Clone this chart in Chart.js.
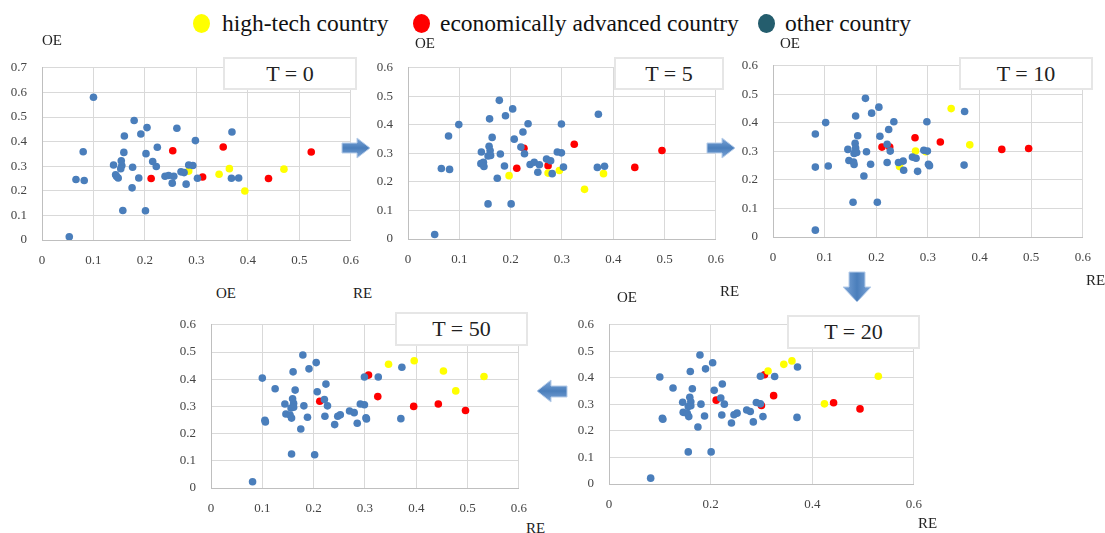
<!DOCTYPE html>
<html>
<head>
<meta charset="utf-8">
<script src="https://cdn.jsdelivr.net/npm/chart.js@4"></script>
<style>
  body { margin: 0; background: #fff; }
  #wrap { position: relative; width: 1105px; height: 533px; overflow: hidden;
          font-family: "Liberation Serif", "Times New Roman", "DejaVu Serif", serif; color: #222; }
  canvas { position: absolute; }
  .lbl { position: absolute; font-size: 15px; line-height: 15px; white-space: nowrap; color: #222; }
  .tbox { position: absolute; background: #fff; border: 2px solid #e6e6e6; box-sizing: border-box;
          font-size: 22px; text-align: center; color: #222; }
  .dot { position: absolute; width: 17px; height: 19px; border-radius: 50%; }
  .leg { position: absolute; font-size: 23.5px; line-height: 22px; white-space: nowrap; color: #111; }
  svg { position: absolute; left: 0; top: 0; }
</style>
</head>
<body>
<div id="wrap">
  <canvas id="c0"></canvas>
  <canvas id="c5"></canvas>
  <canvas id="c10"></canvas>
  <canvas id="c50"></canvas>
  <canvas id="c20"></canvas>

  <!-- legend -->
  <div class="dot" style="left:193px;top:14px;background:#ffff00"></div>
  <div class="leg" style="left:222px;top:12px">high-tech country</div>
  <div class="dot" style="left:413px;top:14px;background:#ff0000"></div>
  <div class="leg" style="left:440px;top:12px">economically advanced country</div>
  <div class="dot" style="left:758px;top:14px;background:#245d6d"></div>
  <div class="leg" style="left:785px;top:12px">other country</div>

  <!-- axis names -->
  <div class="lbl" style="left:42px;top:33px">OE</div>
  <div class="lbl" style="left:415px;top:36px">OE</div>
  <div class="lbl" style="left:780px;top:36px">OE</div>
  <div class="lbl" style="left:1086px;top:273px">RE</div>
  <div class="lbl" style="left:216px;top:286px">OE</div>
  <div class="lbl" style="left:353px;top:286px">RE</div>
  <div class="lbl" style="left:526px;top:521px">RE</div>
  <div class="lbl" style="left:617px;top:290px">OE</div>
  <div class="lbl" style="left:720px;top:284px">RE</div>
  <div class="lbl" style="left:918px;top:516px">RE</div>

  <!-- period boxes -->
  <div class="tbox" style="left:223px;top:57px;width:134px;height:33px;line-height:29px">T = 0</div>
  <div class="tbox" style="left:614px;top:57px;width:110px;height:33px;line-height:29px">T = 5</div>
  <div class="tbox" style="left:959px;top:57px;width:134px;height:33px;line-height:29px">T = 10</div>
  <div class="tbox" style="left:395px;top:312px;width:133px;height:34px;line-height:30px">T = 50</div>
  <div class="tbox" style="left:787px;top:315px;width:133px;height:34px;line-height:30px">T = 20</div>

  <svg width="1105" height="533">
    <defs>
      <linearGradient id="gh" x1="0" y1="0" x2="0" y2="1">
        <stop offset="0" stop-color="#7ea6d8"/><stop offset="0.5" stop-color="#4a7ebb"/><stop offset="1" stop-color="#7ea6d8"/>
      </linearGradient>
      <linearGradient id="gv" x1="0" y1="0" x2="1" y2="0">
        <stop offset="0" stop-color="#7ea6d8"/><stop offset="0.5" stop-color="#4a7ebb"/><stop offset="1" stop-color="#7ea6d8"/>
      </linearGradient>
    </defs>
    <polygon points="342,143 357,143 357,138 370,148 357,158 357,153 342,153" fill="url(#gh)" stroke="#b7cde9" stroke-width="1"/>
    <polygon points="707,143 722,143 722,138 735,148 722,158 722,153 707,153" fill="url(#gh)" stroke="#b7cde9" stroke-width="1"/>
    <polygon points="849,272 865,272 865,287 871,287 857,302 843,287 849,287" fill="url(#gv)" stroke="#b7cde9" stroke-width="1"/>
    <polygon points="567,386 551,386 551,380 537,391 551,402 551,397 567,397" fill="url(#gh)" stroke="#b7cde9" stroke-width="1"/>
  </svg>
</div>

<script>
// T = 0
const t0Other = [[0.053,0.013],[0.066,0.246],[0.082,0.242],[0.080,0.359],[0.100,0.580],[0.139,0.305],
  [0.143,0.265],[0.145,0.258],[0.148,0.252],[0.154,0.322],[0.155,0.303],[0.153,0.290],[0.157,0.120],
  [0.160,0.423],[0.159,0.356],[0.176,0.296],[0.175,0.212],[0.179,0.486],[0.188,0.252],[0.192,0.431],
  [0.202,0.351],[0.204,0.457],[0.201,0.119],[0.215,0.319],[0.222,0.299],[0.224,0.377],[0.239,0.259],
  [0.246,0.262],[0.256,0.259],[0.253,0.231],[0.262,0.454],[0.270,0.277],[0.276,0.274],[0.280,0.227],
  [0.285,0.305],[0.293,0.303],[0.298,0.404],[0.302,0.251],[0.369,0.439],[0.368,0.251],[0.382,0.252]];
const t0HighTech = [[0.285,0.280],[0.344,0.267],[0.364,0.290],[0.394,0.199],[0.470,0.288]];
const t0Advanced = [[0.212,0.250],[0.254,0.363],[0.312,0.256],[0.352,0.378],[0.440,0.250],[0.523,0.358]];

// T = 5
const t5Other = [[0.052,0.016],[0.065,0.247],[0.081,0.244],[0.079,0.361],[0.099,0.401],[0.143,0.305],
  [0.142,0.264],[0.147,0.269],[0.148,0.254],[0.158,0.325],[0.160,0.310],[0.156,0.291],[0.161,0.293],
  [0.156,0.123],[0.159,0.421],[0.164,0.356],[0.180,0.298],[0.174,0.213],[0.178,0.486],[0.188,0.256],
  [0.190,0.432],[0.207,0.350],[0.204,0.456],[0.201,0.123],[0.220,0.322],[0.227,0.299],[0.224,0.375],
  [0.234,0.404],[0.238,0.261],[0.246,0.269],[0.256,0.260],[0.253,0.234],[0.270,0.280],[0.278,0.274],
  [0.281,0.229],[0.291,0.305],[0.299,0.302],[0.299,0.403],[0.303,0.252],[0.371,0.437],[0.369,0.251],
  [0.383,0.255]];
const t5HighTech = [[0.197,0.222],[0.273,0.231],[0.295,0.240],[0.344,0.174],[0.381,0.229]];
const t5Advanced = [[0.212,0.248],[0.226,0.318],[0.273,0.257],[0.324,0.332],[0.442,0.251],[0.495,0.310]];

// T = 10
const t10Other = [[0.082,0.024],[0.082,0.245],[0.107,0.249],[0.082,0.361],[0.102,0.401],[0.145,0.307],
  [0.147,0.268],[0.156,0.263],[0.157,0.254],[0.159,0.328],[0.160,0.312],[0.157,0.293],[0.162,0.296],
  [0.155,0.122],[0.160,0.424],[0.164,0.355],[0.181,0.299],[0.176,0.214],[0.179,0.486],[0.189,0.255],
  [0.191,0.434],[0.207,0.353],[0.205,0.455],[0.202,0.122],[0.221,0.325],[0.227,0.301],[0.224,0.377],
  [0.234,0.404],[0.221,0.261],[0.243,0.261],[0.252,0.266],[0.253,0.234],[0.270,0.280],[0.277,0.276],
  [0.280,0.230],[0.292,0.304],[0.299,0.301],[0.298,0.404],[0.301,0.255],[0.303,0.250],[0.371,0.440],
  [0.370,0.252]];
const t10HighTech = [[0.245,0.247],[0.276,0.301],[0.296,0.299],[0.345,0.450],[0.381,0.323]];
const t10Advanced = [[0.211,0.315],[0.226,0.315],[0.275,0.348],[0.324,0.333],[0.443,0.307],[0.495,0.310]];

// T = 20
const t20Other = [[0.082,0.022],[0.105,0.248],[0.106,0.244],[0.100,0.403],[0.126,0.362],[0.145,0.308],
  [0.146,0.270],[0.154,0.266],[0.157,0.254],[0.159,0.327],[0.161,0.310],[0.156,0.292],[0.161,0.295],
  [0.156,0.121],[0.160,0.424],[0.164,0.359],[0.181,0.301],[0.175,0.215],[0.179,0.486],[0.188,0.256],
  [0.190,0.434],[0.207,0.353],[0.204,0.457],[0.201,0.121],[0.220,0.324],[0.227,0.301],[0.223,0.377],
  [0.222,0.260],[0.241,0.230],[0.246,0.261],[0.252,0.267],[0.271,0.279],[0.278,0.273],[0.284,0.234],
  [0.290,0.307],[0.298,0.302],[0.298,0.406],[0.303,0.254],[0.326,0.405],[0.371,0.441],[0.370,0.251]];
const t20HighTech = [[0.313,0.426],[0.344,0.451],[0.360,0.464],[0.424,0.302],[0.530,0.406]];
const t20Advanced = [[0.211,0.316],[0.306,0.412],[0.324,0.333],[0.300,0.296],[0.442,0.306],[0.494,0.283]];

// T = 50
const t50Other = [[0.081,0.023],[0.105,0.249],[0.106,0.243],[0.100,0.404],[0.125,0.365],[0.144,0.309],
  [0.146,0.272],[0.154,0.268],[0.157,0.257],[0.159,0.328],[0.161,0.311],[0.156,0.294],[0.161,0.297],
  [0.157,0.125],[0.160,0.427],[0.164,0.360],[0.181,0.302],[0.175,0.217],[0.179,0.489],[0.188,0.260],
  [0.191,0.438],[0.207,0.354],[0.205,0.461],[0.202,0.122],[0.221,0.325],[0.227,0.302],[0.224,0.382],
  [0.222,0.264],[0.241,0.233],[0.247,0.264],[0.252,0.269],[0.270,0.283],[0.279,0.277],[0.285,0.238],
  [0.291,0.309],[0.299,0.306],[0.299,0.408],[0.302,0.258],[0.303,0.254],[0.326,0.408],[0.372,0.444],
  [0.370,0.255]];
const t50HighTech = [[0.346,0.455],[0.396,0.468],[0.453,0.430],[0.477,0.357],[0.532,0.410]];
const t50Advanced = [[0.212,0.319],[0.307,0.415],[0.325,0.336],[0.395,0.300],[0.443,0.309],[0.496,0.285]];

const blue = '#4a7ebb', yellow = '#ffff00', red = '#ff0000';
const Y_W = 40, X_H = 32, PAD_T = 10, PAD_R = 12;
const SERIF = '"Liberation Serif", "Times New Roman", "DejaVu Serif", serif';

function toPts(arr) {
    return arr.map(p => ({ x: p[0], y: p[1] }));
}

function makeChart(id, L, T, R, B, xStep, yMax, other, high, adv) {
    const cv = document.getElementById(id);
    cv.width = (R - L) + Y_W + PAD_R;
    cv.height = (B - T) + PAD_T + X_H;
    cv.style.left = (L - Y_W) + 'px';
    cv.style.top = (T - PAD_T) + 'px';

    const tickFont = { family: SERIF, size: 13 };
    new Chart(cv, {
        type: 'scatter',
        data: {
            datasets: [
                { label: 'other country', data: toPts(other), backgroundColor: blue, pointRadius: 3.8, borderWidth: 0 },
                { label: 'high-tech country', data: toPts(high), backgroundColor: yellow, pointRadius: 3.8, borderWidth: 0 },
                { label: 'economically advanced country', data: toPts(adv), backgroundColor: red, pointRadius: 3.8, borderWidth: 0 }
            ]
        },
        options: {
            responsive: false,
            animation: false,
            devicePixelRatio: 1,
            layout: { padding: { top: PAD_T, right: PAD_R, left: 0, bottom: 0 } },
            plugins: { legend: { display: false }, tooltip: { enabled: false } },
            scales: {
                x: {
                    type: 'linear', min: 0, max: 0.6,
                    ticks: { stepSize: xStep, padding: 13, color: '#444', font: tickFont,
                             callback: v => String(Number(v.toFixed(1))) },
                    grid: { color: '#d9d9d9', drawTicks: false },
                    border: { color: '#bfbfbf' },
                    afterFit: s => { s.height = X_H; }
                },
                y: {
                    type: 'linear', min: 0, max: yMax,
                    ticks: { stepSize: 0.1, padding: 15, color: '#444', font: tickFont,
                             callback: v => String(Number(v.toFixed(1))) },
                    grid: { color: '#d9d9d9', drawTicks: false },
                    border: { color: '#bfbfbf' },
                    afterFit: s => { s.width = Y_W; }
                }
            }
        }
    });
}

makeChart('c0', 42, 55, 360, 240, 0.1, 0.7, t0Other, t0HighTech, t0Advanced);
makeChart('c5', 408, 55, 725, 239, 0.1, 0.6, t5Other, t5HighTech, t5Advanced);
makeChart('c10', 773, 53, 1092, 237, 0.1, 0.6, t10Other, t10HighTech, t10Advanced);
makeChart('c50', 211, 312, 528, 488, 0.1, 0.6, t50Other, t50HighTech, t50Advanced);
makeChart('c20', 609, 312, 923, 484, 0.2, 0.6, t20Other, t20HighTech, t20Advanced);
</script>
</body>
</html>
